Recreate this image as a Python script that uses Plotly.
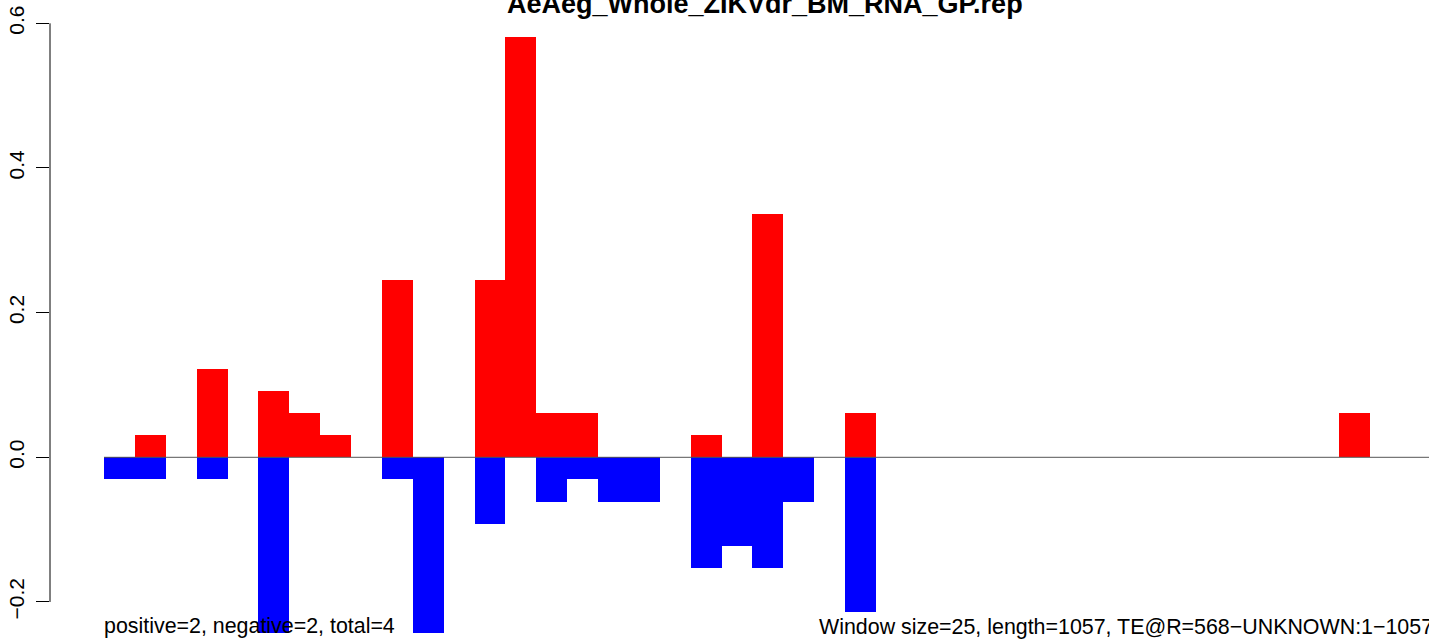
import plotly.graph_objects as go

# ---- data ----
window_size = 25
seq_length = 1057
window_start = [i * window_size for i in range(43)]
positive = [0, 0.0306, 0, 0.1223, 0, 0.0917, 0.0612, 0.0306, 0, 0.2446,
            0, 0, 0.2446, 0.5810, 0.0612, 0.0612, 0, 0, 0, 0.0306,
            0, 0.3364, 0, 0, 0.0612, 0, 0, 0, 0, 0,
            0, 0, 0, 0, 0, 0, 0, 0, 0, 0,
            0.0612, 0, 0]
negative = [-0.0306, -0.0306, 0, -0.0306, 0, -0.2429, 0, 0, 0, -0.0306,
            -0.2429, 0, -0.0918, 0, -0.0612, -0.0306, -0.0612, -0.0612, 0, -0.1526,
            -0.1222, -0.1526, -0.0612, 0, -0.2135, 0, 0, 0, 0, 0,
            0, 0, 0, 0, 0, 0, 0, 0, 0, 0,
            0, 0, 0]
y_ticks = [-0.2, 0.0, 0.2, 0.4, 0.6]
y_tick_labels = ["\u22120.2", "0.0", "0.2", "0.4", "0.6"]
title_text = "AeAeg_Whole_ZIKVdr_BM_RNA_GP.rep"
left_note = "positive=2, negative=2, total=4"
right_note = "Window size=25, length=1057, TE@R=568\u2212UNKNOWN:1\u22121057"

# ---- layout geometry ----
W, H = 1429, 639
ML = 50
px_per_bp = 1.235
x0_px = 104
y0_px = 457.3
px_per_unit = 723.3

x_range = [(ML - x0_px) / px_per_bp, (W - x0_px) / px_per_bp]
y_range = [-(H - y0_px) / px_per_unit, y0_px / px_per_unit]

def paper_x(px):
    return (px - ML) / (W - ML)

def paper_y(py):
    return (H - py) / H

FONT = "Liberation Sans, Arial, Helvetica, sans-serif"

centers = [s + window_size / 2 for s in window_start]

fig = go.Figure()
fig.add_trace(go.Bar(x=centers, y=positive, width=window_size,
                     marker=dict(color="#FF0000", line=dict(width=0)),
                     hoverinfo="skip"))
fig.add_trace(go.Bar(x=centers, y=negative, width=window_size,
                     marker=dict(color="#0000FF", line=dict(width=0)),
                     hoverinfo="skip"))

# zero line
fig.add_shape(type="line", xref="x", yref="y", x0=0, x1=x_range[1], y0=0, y1=0,
              line=dict(color="#555555", width=1), layer="above")
# y-axis line (R style, only across tick span)
fig.add_shape(type="line", xref="paper", yref="y", x0=0, x1=0,
              y0=y_ticks[0], y1=y_ticks[-1],
              line=dict(color="black", width=1), layer="above")

fig.add_annotation(text="<b>" + title_text + "</b>", xref="paper", yref="paper",
                   x=paper_x(765), y=paper_y(4), xanchor="center", yanchor="middle",
                   showarrow=False, font=dict(family=FONT, size=27, color="black"))
fig.add_annotation(text=left_note, xref="paper", yref="paper",
                   x=paper_x(102), y=paper_y(626), xanchor="left", yanchor="middle",
                   showarrow=False, font=dict(family=FONT, size=21.4, color="black"))
fig.add_annotation(text=right_note, xref="paper", yref="paper",
                   x=paper_x(817), y=paper_y(627), xanchor="left", yanchor="middle",
                   showarrow=False, font=dict(family=FONT, size=21.4, color="black"))

fig.update_layout(
    width=W, height=H,
    margin=dict(l=ML, r=0, t=0, b=0, pad=0),
    paper_bgcolor="white", plot_bgcolor="white",
    barmode="overlay", bargap=0, showlegend=False,
    xaxis=dict(range=x_range, visible=False, fixedrange=True),
    yaxis=dict(range=y_range, showgrid=False, zeroline=False, showline=False,
               ticks="outside", ticklen=13, tickwidth=1, tickcolor="black",
               tickvals=y_ticks, ticktext=y_tick_labels, tickangle=-90,
               ticklabelstandoff=4,
               tickfont=dict(family=FONT, size=21, color="black"),
               fixedrange=True),
)

fig.write_html("out.html",
               post_script="document.body.style.margin='0';document.body.style.overflow='hidden';",
               config={"displayModeBar": False})
